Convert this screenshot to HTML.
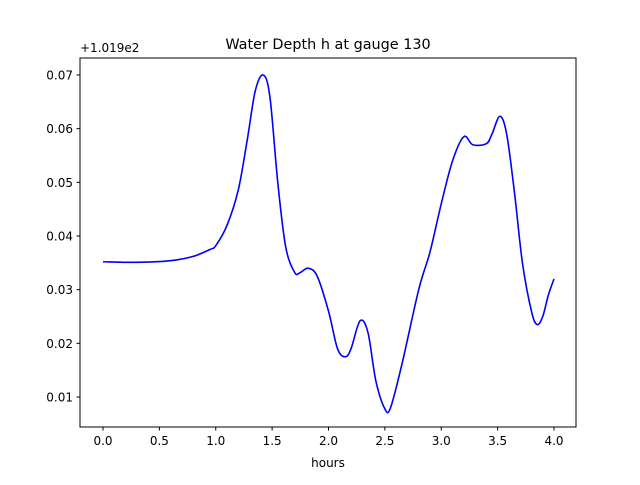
<!DOCTYPE html>
<html><head><meta charset="utf-8"><style>
body{margin:0;background:#fff;}
svg text{font-family:"DejaVu Sans","Liberation Sans",sans-serif;fill:#000;}
</style></head><body>
<svg width="640" height="480" xmlns="http://www.w3.org/2000/svg">
<rect width="640" height="480" fill="#fff"/>
<text x="328" y="49" font-size="14.4" text-anchor="middle">Water Depth h at gauge 130</text>
<text x="80" y="52" font-size="12">+1.019e2</text>
<g id="xt"></g><g id="yt"></g>
<path id="line" fill="none" stroke="#0000ff" stroke-width="1.6"/>
<rect x="80" y="58" width="496" height="369" fill="none" stroke="#000" stroke-width="1"/>
<text x="328" y="467" font-size="12" text-anchor="middle">hours</text>
</svg>
<script>
const xs=[0,0.3,0.6,0.8,0.95,1.0,1.1,1.2,1.28,1.35,1.42,1.48,1.55,1.62,1.7,1.75,1.82,1.9,2.0,2.08,2.15,2.2,2.28,2.35,2.42,2.5,2.55,2.65,2.8,2.9,3.0,3.1,3.2,3.28,3.4,3.45,3.52,3.58,3.65,3.72,3.8,3.85,3.9,3.95,4.0];
const ys=[0.0352,0.0351,0.0354,0.0362,0.0375,0.0382,0.042,0.0486,0.058,0.067,0.070,0.066,0.050,0.038,0.0332,0.0332,0.034,0.0325,0.026,0.019,0.0175,0.019,0.0242,0.022,0.013,0.0078,0.008,0.016,0.030,0.037,0.046,0.054,0.0585,0.057,0.0572,0.059,0.0623,0.059,0.048,0.035,0.026,0.0235,0.025,0.029,0.032];
const xTicks=[0,0.5,1,1.5,2,2.5,3,3.5,4];
const xTickLabels=["0.0","0.5","1.0","1.5","2.0","2.5","3.0","3.5","4.0"];
const yTicks=[0.01,0.02,0.03,0.04,0.05,0.06,0.07];
const yTickLabels=["0.01","0.02","0.03","0.04","0.05","0.06","0.07"];
const X=v=>103+v*112.75, Y=v=>397-(v-0.01)*5366.7;
const NS="http://www.w3.org/2000/svg";
function mk(t,a,p){const e=document.createElementNS(NS,t);for(const k in a)e.setAttribute(k,a[k]);p.appendChild(e);return e;}
const xt=document.getElementById('xt'),yt=document.getElementById('yt');
xTicks.forEach((v,i)=>{
 const l=mk('line',{x1:X(v),x2:X(v),y1:427,y2:430.5,stroke:'#000'},xt);
 
 
 const t=mk('text',{x:X(v),y:445,'font-size':12,'text-anchor':'middle'},xt);t.textContent=xTickLabels[i];
 
 
});
yTicks.forEach((v,i)=>{
 const l=mk('line',{x1:76.5,x2:80,y1:Y(v),y2:Y(v),stroke:'#000'},yt);
 
 
 const t=mk('text',{x:73,y:Y(v)+4.5,'font-size':12,'text-anchor':'end'},yt);t.textContent=yTickLabels[i];
 
 
});
const P=xs.map((x,i)=>[X(x),Y(ys[i])]);
let d='M'+P[0][0]+','+P[0][1];
for(let i=0;i<P.length-1;i++){
 const p0=P[Math.max(i-1,0)],p1=P[i],p2=P[i+1],p3=P[Math.min(i+2,P.length-1)];
 const c1=[p1[0]+(p2[0]-p0[0])/6,p1[1]+(p2[1]-p0[1])/6],c2=[p2[0]-(p3[0]-p1[0])/6,p2[1]-(p3[1]-p1[1])/6];
 d+=` C${c1[0]},${c1[1]} ${c2[0]},${c2[1]} ${p2[0]},${p2[1]}`;
}
document.getElementById('line').setAttribute('d',d);
</script>
</body></html>
